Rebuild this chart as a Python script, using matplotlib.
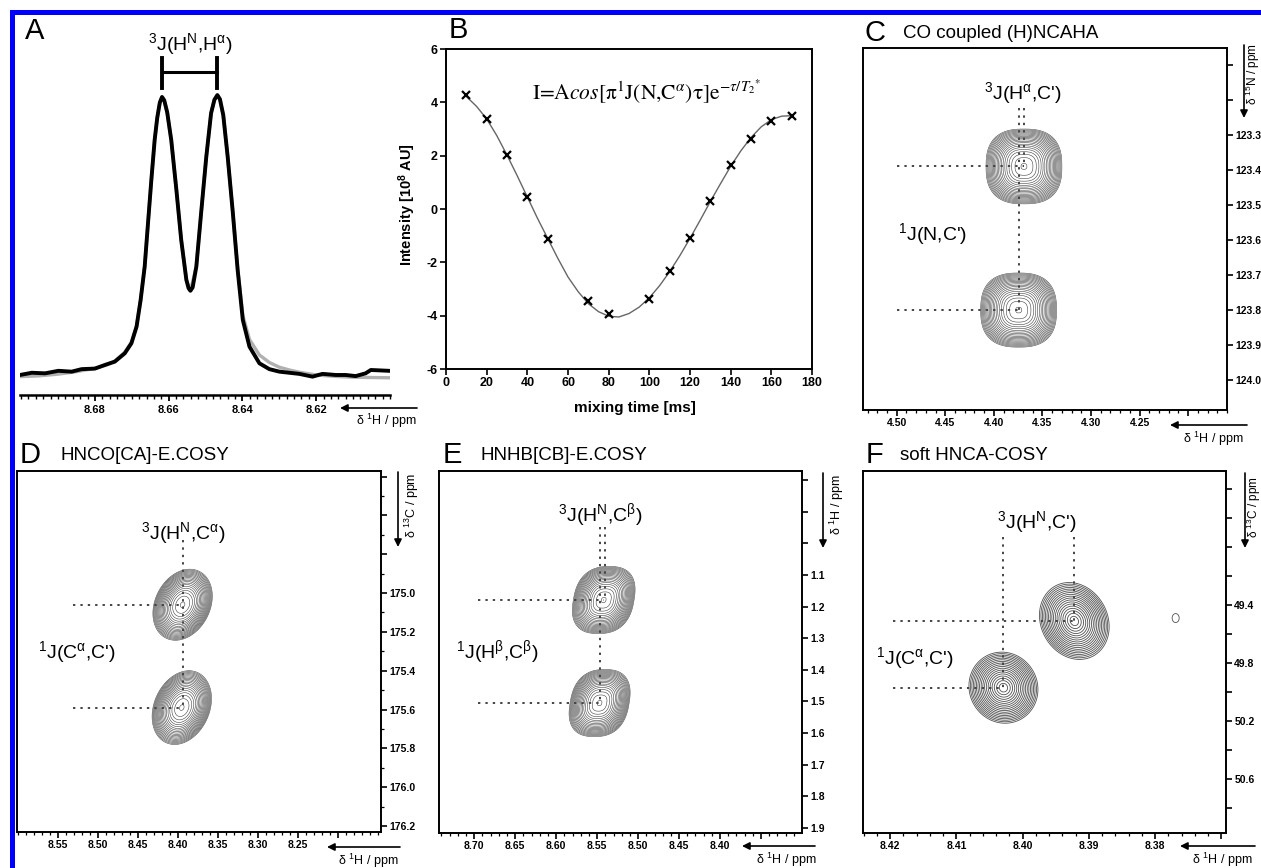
import numpy as np
import matplotlib
matplotlib.use('Agg')
import matplotlib.pyplot as plt
from matplotlib.patches import Rectangle
from matplotlib.text import Annotation

plt.rcParams['font.family'] = ['Liberation Sans', 'DejaVu Sans']
plt.rcParams['mathtext.fontset'] = 'custom'
plt.rcParams['mathtext.rm'] = 'Liberation Sans'
plt.rcParams['mathtext.it'] = 'Liberation Sans:italic'
plt.rcParams['mathtext.bf'] = 'Liberation Sans:bold'

# --- A: 1D HN doublet (measured trace and fit) ---
a_ppm = [8.7003, 8.6971, 8.6935, 8.6899, 8.6863, 8.6836, 8.6800, 8.6773, 8.6746, 8.6719,
         8.6701, 8.6687, 8.6676, 8.6665, 8.6656, 8.6647, 8.6638, 8.6631, 8.6624, 8.6618,
         8.6612, 8.6604, 8.6593, 8.6579, 8.6566, 8.6552, 8.6546, 8.6541, 8.6535, 8.6525,
         8.6512, 8.6498, 8.6485, 8.6476, 8.6468, 8.6461, 8.6452, 8.6440, 8.6426, 8.6413,
         8.6399, 8.6381, 8.6354, 8.6327, 8.6300, 8.6273, 8.6246, 8.6210, 8.6183, 8.6147,
         8.6120, 8.6093, 8.6066, 8.6052, 8.6003]
a_int = [0.000, 0.008, 0.006, 0.015, 0.012, 0.021, 0.023, 0.036, 0.048, 0.078,
         0.114, 0.174, 0.270, 0.390, 0.546, 0.701, 0.845, 0.925, 0.980, 1.000,
         0.988, 0.945, 0.845, 0.665, 0.486, 0.342, 0.312, 0.303, 0.315, 0.390,
         0.583, 0.785, 0.942, 0.990, 1.007, 0.992, 0.935, 0.785, 0.583, 0.378,
         0.198, 0.102, 0.042, 0.021, 0.012, 0.008, 0.004, -0.006, 0.004, 0.000,
         0.000, -0.004, 0.006, 0.018, 0.015]
a_fit_ppm = [8.7003, 8.695, 8.690, 8.685, 8.680, 8.677, 8.6746, 8.6719, 8.6701, 8.6687,
             8.6676, 8.6665, 8.6656, 8.6647, 8.6638, 8.6631, 8.6624, 8.6618, 8.6612, 8.6604,
             8.6593, 8.6579, 8.6566, 8.6552, 8.6541, 8.6525, 8.6512, 8.6498, 8.6485, 8.6476,
             8.6468, 8.6461, 8.6452, 8.6440, 8.6426, 8.6413, 8.6399, 8.6381, 8.6354, 8.6327,
             8.6300, 8.6273, 8.6246, 8.620, 8.615, 8.610, 8.6003]
a_fit_int = [-0.006, -0.003, 0.003, 0.012, 0.024, 0.035, 0.050, 0.082, 0.118, 0.176,
             0.270, 0.390, 0.546, 0.700, 0.845, 0.925, 0.980, 1.000, 0.988, 0.945,
             0.845, 0.665, 0.486, 0.342, 0.303, 0.390, 0.583, 0.785, 0.942, 0.990,
             1.005, 0.992, 0.935, 0.785, 0.583, 0.385, 0.215, 0.128, 0.072, 0.045,
             0.028, 0.018, 0.010, 0.000, -0.005, -0.008, -0.010]
a_doublet = [8.6618, 8.6468]

# --- B: intensity vs mixing time ---
b_time = [10, 20, 30, 40, 50, 70, 80, 100, 110, 120, 130, 140, 150, 160, 170]
b_int = [4.26, 3.39, 2.01, 0.44, -1.11, -3.44, -3.95, -3.36, -2.34, -1.08, 0.31, 1.64, 2.64, 3.30, 3.49]
b_fit_time = [10, 15, 20, 25, 30, 35, 40, 45, 50, 55, 60, 65, 70, 75, 80, 85, 90,
              95, 100, 105, 110, 115, 120, 125, 130, 135, 140, 145, 150, 155, 160, 165, 170]
b_fit_int = [4.22, 3.85, 3.38, 2.75, 2.02, 1.25, 0.45, -0.35, -1.10, -1.85, -2.55, -3.10, -3.55,
             -3.85, -4.02, -4.05, -3.92, -3.68, -3.33, -2.88, -2.35, -1.75, -1.10, -0.42, 0.28,
             0.95, 1.60, 2.18, 2.68, 3.08, 3.35, 3.48, 3.50]

# --- C-F: cross peak centres and half widths (ppm) ---
c_h = [4.3690, 4.3745]
c_n = [123.389, 123.800]
c_wh = [0.039, 0.039]
c_wn = [0.107, 0.106]

d_h = [8.394, 8.395]
d_c = [175.06, 175.59]
d_wh = [0.036, 0.036]
d_wc = [0.183, 0.190]

e_h = [8.542, 8.547]
e_hb = [1.179, 1.505]
e_wh = [0.037, 0.036]
e_whb = [0.106, 0.106]

f_h = [8.3922, 8.4029, 8.3769]
f_c = [49.51, 49.97, 49.49]
f_wh = [0.0052, 0.0052, 0.0019]
f_wc = [0.265, 0.245, 0.110]
f_amp = [1.0, 1.0, 0.0158]

W, H = 1261, 868
fig = plt.figure(figsize=(W / 100, H / 100), dpi=100)

# frame lines (top and left)
fig.add_artist(Rectangle((10 / W, 1 - 15 / H), 1251 / W, 5 / H, transform=fig.transFigure,
                         facecolor='#0000ff', edgecolor='none'))
fig.add_artist(Rectangle((10 / W, 0), 5 / W, 1 - 10 / H, transform=fig.transFigure,
                         facecolor='#0000ff', edgecolor='none'))


def box(l, t, r, b):
    return fig.add_axes([l / W, 1 - b / H, (r - l) / W, (b - t) / H])


def put(x, y, s, **kw):
    kw.setdefault('ha', 'center')
    kw.setdefault('va', 'center')
    return fig.text(x / W, 1 - y / H, s, **kw)


def arrow(x1, y1, x2, y2):
    fig.add_artist(Annotation('', xy=(x2 / W, 1 - y2 / H), xytext=(x1 / W, 1 - y1 / H),
                              xycoords='figure fraction', textcoords='figure fraction',
                              arrowprops=dict(arrowstyle='-|>', color='k', lw=1.2,
                                              mutation_scale=11, shrinkA=0, shrinkB=0)))


def guide(ax, xs, ys):
    ax.plot(xs, ys, ls=(0, (1.2, 2.6)), color='#444444', lw=1.4, zorder=3)


def peaks(ax, xs, ys, wx, wy, amp, shear, p, rings, color, lw):
    xa, xb = ax.get_xlim()
    ya, yb = ax.get_ylim()
    gx = np.linspace(min(xa, xb), max(xa, xb), 700)
    gy = np.linspace(min(ya, yb), max(ya, yb), 700)
    X, Y = np.meshgrid(gx, gy)
    Z = np.zeros_like(X)
    for cx, cy, sx, sy, a, k in zip(xs, ys, wx, wy, amp, shear):
        du = (cx - X) / sx
        dv = (Y - cy) / sy
        u = du + k * dv
        rho = np.abs(u) ** p + np.abs(dv) ** p
        Z += a * np.exp(-4.5 * rho)
    levels = np.exp(-4.5 * np.asarray(rings) ** p)
    ax.contour(X, Y, Z, levels=np.sort(levels), colors=color, linewidths=lw, zorder=2)


def nmr_axes(ax, xlim, ylim, xmaj, xlab, xmin, ymaj, ylab, ymin):
    ax.set_xlim(*xlim)
    ax.set_ylim(*ylim)
    for s in ax.spines.values():
        s.set_linewidth(1.4)
    ax.xaxis.tick_bottom()
    ax.yaxis.tick_right()
    ax.set_xticks(xmaj, labels=xlab, fontsize=7.5, fontweight='bold')
    ax.set_xticks(xmin, minor=True)
    ax.set_yticks(ymaj, labels=ylab, fontsize=7.5, fontweight='bold')
    ax.set_yticks(ymin, minor=True)
    ax.tick_params(which='major', direction='out', length=4, width=1.2, pad=2)
    ax.tick_params(which='minor', direction='out', length=2, width=0.9)


# ---------------- A ----------------
axA = box(20, 20, 390, 395)
axA.plot(a_fit_ppm, a_fit_int, color='#b0b0b0', lw=2.4, solid_joinstyle='round')
axA.plot(a_ppm, a_int, color='black', lw=2.8, solid_joinstyle='round')
axA.plot(a_doublet, [1.09, 1.09], color='black', lw=2.2)
for x in a_doublet:
    axA.plot([x, x], [1.032, 1.14], color='black', lw=2.8)
axA.set_xlim(8.7003, 8.6003)
axA.set_ylim(-0.072, 1.277)
for k in ('top', 'left', 'right'):
    axA.spines[k].set_visible(False)
axA.spines['bottom'].set_linewidth(1.8)
axA.set_yticks([])
axA.set_xticks([8.68, 8.66, 8.64, 8.62], labels=['8.68', '8.66', '8.64', '8.62'],
               fontsize=8, fontweight='bold')
axA.set_xticks(np.round(np.arange(8.600, 8.7005, 0.002), 3), minor=True)
axA.tick_params(which='major', direction='out', length=4, width=1.3, pad=3)
axA.tick_params(which='minor', direction='out', length=3, width=1.0)
axA.patch.set_alpha(0)
put(35, 31, 'A', fontsize=21)
put(190, 44, r"$^{3}$J(H$^{\mathrm{N}}$,H$^{\mathrm{\alpha}}$)", fontsize=14)
arrow(417, 408, 340, 408)
put(386, 421, r'δ $^{1}$H / ppm', fontsize=9)

# ---------------- B ----------------
axB = box(446, 49, 812, 369)
axB.plot(b_fit_time, b_fit_int, color='#666666', lw=1.0)
axB.plot(b_time, b_int, ls='none', marker='x', color='black', ms=6, mew=1.6)
axB.set_xlim(0, 180)
axB.set_ylim(-6, 6)
for s in axB.spines.values():
    s.set_linewidth(1.4)
axB.set_xticks(range(0, 181, 20), labels=[str(v) for v in range(0, 181, 20)],
               fontsize=9, fontweight='bold')
axB.set_yticks(range(-6, 7, 2), labels=[str(v) for v in range(-6, 7, 2)],
               fontsize=9, fontweight='bold')
axB.tick_params(direction='out', length=4, width=1.2, pad=2)
put(458, 30, 'B', fontsize=21)
put(647, 92, r'I=A$\mathit{cos}$[π$^{1}$J(N,C$^{\alpha}$)τ]e$^{-τ/T_{2}{}^{*}}$',
    fontsize=15.5, family='STIXGeneral', math_fontfamily='stix')
put(635, 408, 'mixing time [ms]', fontsize=11, fontweight='bold')
put(407, 205, r'Intensity [10$^{\mathbf{8}}$ AU]', fontsize=10.5, fontweight='bold',
    rotation=90)

# ---------------- C ----------------
axC = box(863, 48, 1227, 410)
cx_maj = np.round(np.arange(4.50, 4.19, -0.05), 2)
cy_maj = np.round(np.arange(123.1, 124.05, 0.1), 1)
nmr_axes(axC, (4.5347, 4.1633), (124.086, 123.05),
         cx_maj, ['%.2f' % v if v > 4.21 else '' for v in cx_maj],
         np.round(np.arange(4.53, 4.16, -0.01), 2),
         cy_maj, ['%.1f' % v if v > 123.25 else '' for v in cy_maj], [])
peaks(axC, c_h, c_n, c_wh, c_wn, [1, 1], [0, 0], 2.6,
      np.sqrt(np.linspace(1, 0.006, 21)), '#404040', 0.4)
guide(axC, [4.50, c_h[0]], [c_n[0], c_n[0]])
guide(axC, [4.50, c_h[1]], [c_n[1], c_n[1]])
guide(axC, [c_h[1], c_h[1]], [123.223, c_n[1]])
guide(axC, [c_h[0], c_h[0]], [123.223, c_n[0]])
put(875, 33, 'C', fontsize=21)
put(903, 34, 'CO coupled (H)NCAHA', fontsize=13.5, ha='left')
put(1023, 93, r"$^{3}$J(H$^{\mathrm{\alpha}}$,C')", fontsize=14)
put(933, 234, r"$^{1}$J(N,C')", fontsize=14)
arrow(1247, 425, 1170, 425)
put(1213, 439, r'δ $^{1}$H / ppm', fontsize=9)
arrow(1244, 45, 1244, 118)
put(1253, 74, r'δ $^{15}$N / ppm', fontsize=8.5, rotation=90)

# ---------------- D ----------------
axD = box(17, 471, 381, 832)
dx_maj = np.round(np.arange(8.55, 8.19, -0.05), 2)
dy_maj = np.round(np.arange(174.4, 176.25, 0.2), 1)
nmr_axes(axD, (8.601, 8.146), (176.231, 174.371),
         dx_maj, ['%.2f' % v if v > 8.21 else '' for v in dx_maj],
         np.round(np.arange(8.60, 8.145, -0.01), 2),
         dy_maj, ['%.1f' % v if v > 174.95 else '' for v in dy_maj],
         np.round(np.arange(174.5, 176.25, 0.2), 1))
peaks(axD, d_h, d_c, d_wh, d_wc, [1, 1], [0.25, 0.25], 2.0,
      np.sqrt(np.linspace(1, 0.006, 20)), '#404040', 0.4)
guide(axD, [8.5316, d_h[0]], [d_c[0], d_c[0]])
guide(axD, [8.5316, d_h[1]], [d_c[1], d_c[1]])
guide(axD, [d_h[0], d_h[0]], [174.727, d_c[1]])
put(30, 455, 'D', fontsize=21)
put(60, 456, 'HNCO[CA]-E.COSY', fontsize=13.5, ha='left')
put(183, 533, r"$^{3}$J(H$^{\mathrm{N}}$,C$^{\mathrm{\alpha}}$)", fontsize=14)
put(77, 652, r"$^{1}$J(C$^{\mathrm{\alpha}}$,C')", fontsize=14)
arrow(400, 847, 327, 847)
put(368, 861, r'δ $^{1}$H / ppm', fontsize=9)
arrow(398, 472, 398, 547)
put(412, 505, r'δ $^{13}$C / ppm', fontsize=9, rotation=90)

# ---------------- E ----------------
axE = box(439, 471, 802, 833)
ex_maj = np.round(np.arange(8.70, 8.34, -0.05), 2)
ey_maj = np.round(np.arange(0.8, 1.95, 0.1), 1)
nmr_axes(axE, (8.743, 8.30), (1.916, 0.771),
         ex_maj, ['%.2f' % v if v > 8.36 else '' for v in ex_maj],
         np.round(np.arange(8.74, 8.30, -0.01), 2),
         ey_maj, ['%.1f' % v if v > 1.05 else '' for v in ey_maj], [])
peaks(axE, e_h, e_hb, e_wh, e_whb, [1, 1], [0.18, 0.18], 2.5,
      np.sqrt(np.linspace(1, 0.006, 20)), '#404040', 0.4)
guide(axE, [8.695, e_h[0]], [e_hb[0], e_hb[0]])
guide(axE, [8.695, e_h[1]], [e_hb[1], e_hb[1]])
guide(axE, [e_h[1], e_h[1]], [0.947, e_hb[1]])
guide(axE, [e_h[0] - 0.001, e_h[0] - 0.001], [0.947, e_hb[0]])
put(452, 455, 'E', fontsize=21)
put(480, 456, 'HNHB[CB]-E.COSY', fontsize=13.5, ha='left')
put(600, 515, r"$^{3}$J(H$^{\mathrm{N}}$,C$^{\mathrm{\beta}}$)", fontsize=14)
put(497, 652, r"$^{1}$J(H$^{\mathrm{\beta}}$,C$^{\mathrm{\beta}}$)", fontsize=14)
arrow(815, 846, 742, 846)
put(786, 860, r'δ $^{1}$H / ppm', fontsize=9)
arrow(823, 473, 823, 548)
put(837, 505, r'δ $^{1}$H / ppm', fontsize=9, rotation=90)

# ---------------- F ----------------
axF = box(863, 471, 1226, 833)
fx_maj = np.round(np.arange(8.42, 8.365, -0.01), 2)
fy_maj = np.round(np.arange(48.6, 50.85, 0.2), 1)
nmr_axes(axF, (8.4241, 8.3693), (50.972, 48.476),
         fx_maj, ['%.2f' % v if v > 8.375 else '' for v in fx_maj],
         np.round(np.arange(8.424, 8.369, -0.002), 3),
         fy_maj, ['%.1f' % v if (v > 49.3 and round((v - 49.4) / 0.4, 3) % 1 == 0) else ''
                  for v in fy_maj], [])
peaks(axF, f_h, f_c, f_wh, f_wc, f_amp, [-0.15, -0.05, 0.0], 2.0,
      np.linspace(1, 0.06, 18) ** 0.75, '#505050', 0.6)
guide(axF, [8.4195, f_h[0]], [f_c[0], f_c[0]])
guide(axF, [8.4195, f_h[1]], [f_c[1], f_c[1]])
guide(axF, [f_h[1], f_h[1]], [48.929, f_c[1]])
guide(axF, [f_h[0], f_h[0]], [48.929, f_c[0]])
put(875, 455, 'F', fontsize=21)
put(900, 456, 'soft HNCA-COSY', fontsize=13.5, ha='left')
put(1037, 522, r"$^{3}$J(H$^{\mathrm{N}}$,C')", fontsize=14)
put(915, 658, r"$^{1}$J(C$^{\mathrm{\alpha}}$,C')", fontsize=14)
arrow(1255, 846, 1180, 846)
put(1222, 860, r'δ $^{1}$H / ppm', fontsize=9)
arrow(1245, 473, 1245, 548)
put(1254, 507, r'δ $^{13}$C / ppm', fontsize=8.5, rotation=90)

fig.savefig('out.png', dpi=100)
